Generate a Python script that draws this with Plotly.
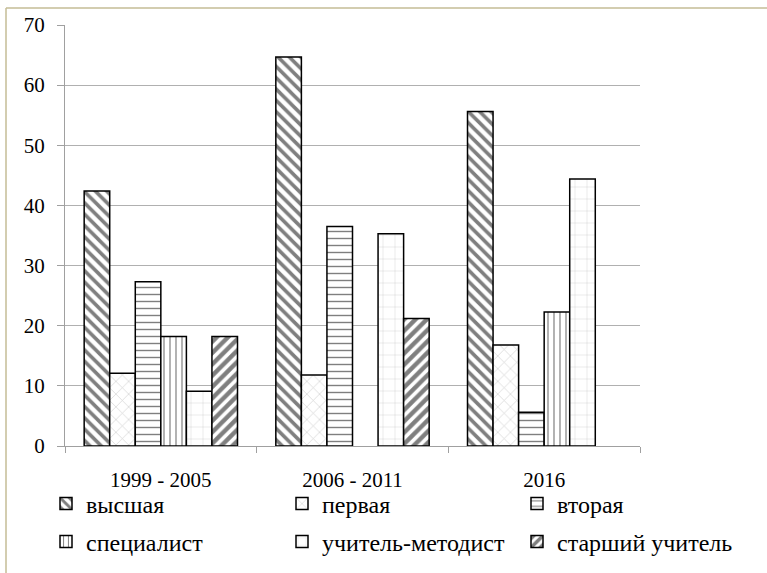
import plotly.graph_objects as go

categories = ["1999 - 2005", "2006 - 2011", "2016"]
series_names = ["высшая", "первая", "вторая", "специалист", "учитель-методист", "старший учитель"]
vysshaya = [42.4, 64.7, 55.6]
pervaya = [12.1, 11.8, 16.8]
vtoraya = [27.3, 36.5, 5.6]
specialist = [18.2, None, 22.3]
metodist = [9.1, 35.3, 44.4]
starshiy = [18.2, 21.2, None]
y_ticks = [0, 10, 20, 30, 40, 50, 60, 70]

values = [vysshaya, pervaya, vtoraya, specialist, metodist, starshiy]
patterns = [
    dict(shape="\\", fgcolor="black", bgcolor="white", size=8, solidity=0.45),
    dict(shape="x", fgcolor="#a8a8a8", bgcolor="white", size=9, solidity=0.15),
    dict(shape="-", fgcolor="black", bgcolor="white", size=7, solidity=0.2),
    dict(shape="|", fgcolor="black", bgcolor="white", size=6, solidity=0.2),
    dict(shape="+", fgcolor="#8a8a8a", bgcolor="white", size=12, solidity=0.06),
    dict(shape="/", fgcolor="black", bgcolor="white", size=8, solidity=0.55),
]

FONT = "Liberation Serif"
L, R, T, B = 65, 640, 25, 446
W, H = 767, 573

def px_x(px):
    return (px - L) / (R - L)

def px_y(py):
    return (B - py) / (B - T)

# legend text start positions (pixels) and row centers
leg_pos = [(87, 504), (323, 504), (558, 504), (87, 542), (323, 542), (558, 542)]

fig = go.Figure()
legend_layout = {}
for i, (name, vals, pat) in enumerate(zip(series_names, values, patterns)):
    lname = "legend" if i == 0 else f"legend{i+1}"
    fig.add_trace(go.Bar(
        x=categories, y=vals, name=name,
        marker=dict(color="white", pattern=pat, line=dict(color="black", width=1.5)),
        legend=lname,
    ))
    tx, ty = leg_pos[i]
    legend_layout[lname] = dict(
        x=px_x(tx - 41), y=px_y(ty), xanchor="left", yanchor="middle",
        bgcolor="rgba(0,0,0,0)", borderwidth=0,
        font=dict(family=FONT, size=24, color="black"),
    )

fig.update_layout(
    width=W, height=H,
    margin=dict(l=L, r=W - R, t=T, b=H - B, autoexpand=False),
    paper_bgcolor="white", plot_bgcolor="white",
    barmode="group", bargap=0.2, bargroupgap=0,
    font=dict(family=FONT, size=20, color="black"),
    showlegend=True,
    **legend_layout,
)
fig.update_xaxes(
    automargin=False,
    showline=True, linecolor="#a0a0a0", linewidth=1,
    ticks="outside", tickson="boundaries", ticklen=6, tickcolor="#a0a0a0",
    tickfont=dict(family=FONT, size=21, color="black"),
    ticklabelstandoff=15,
    showgrid=False,
)
fig.update_yaxes(
    automargin=False,
    range=[0, 70], tickvals=y_ticks,
    showline=True, linecolor="#a0a0a0", linewidth=1,
    ticks="outside", ticklen=7, tickcolor="#a0a0a0",
    ticklabelstandoff=8,
    showgrid=True, gridcolor="#b0b0b0", gridwidth=1,
    tickfont=dict(family=FONT, size=21, color="black"),
    zeroline=False,
)
# outer chart-area border (top and left edges visible)
border = dict(color="#c4bc96", width=1.5)
fig.add_shape(type="line", xref="paper", yref="paper",
              x0=px_x(6), x1=px_x(W + 5), y0=px_y(8), y1=px_y(8), line=border)
fig.add_shape(type="line", xref="paper", yref="paper",
              x0=px_x(6), x1=px_x(6), y0=px_y(8), y1=px_y(H + 5), line=border)

fig.write_html(
    "out.html",
    config={"displayModeBar": False},
    post_script="document.body.style.margin='0px';document.body.style.overflow='hidden';",
)
